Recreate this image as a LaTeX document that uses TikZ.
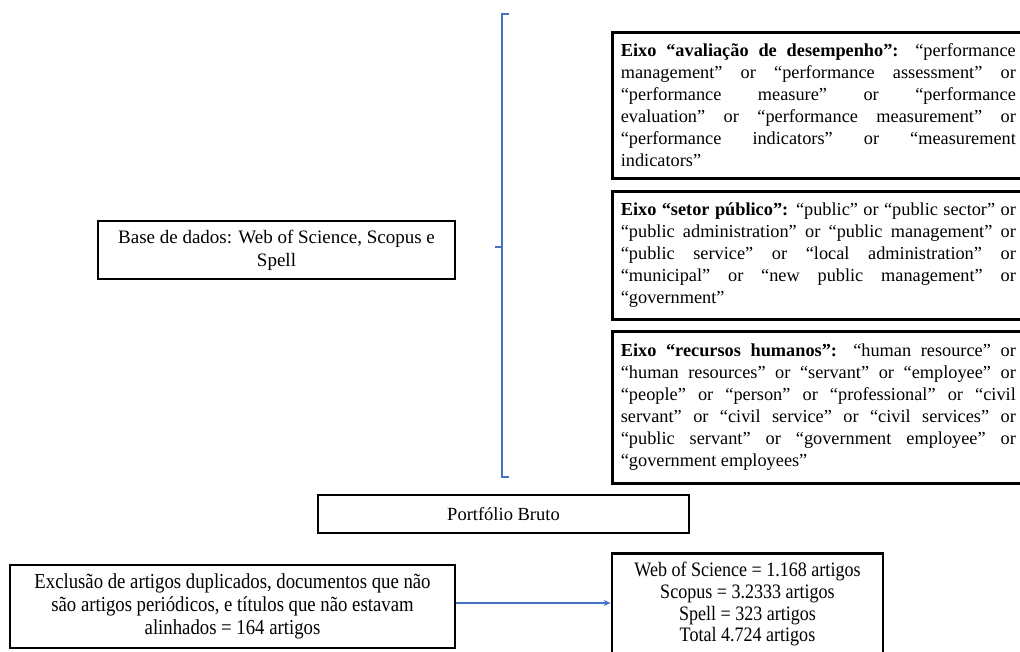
\documentclass[tikz,border=0pt]{standalone}
\usepackage{fontspec}
\setmainfont{Liberation Serif}
\newfontfamily\estreita[FakeStretch=0.88]{Liberation Serif}
\usepackage{xcolor}
\usetikzlibrary{arrows.meta, positioning}
\definecolor{azul}{HTML}{4472C4}

\begin{document}
\begin{tikzpicture}[x = 1pt, y = -1pt,
	caixa/.style = {draw, line width = 2.7pt, inner sep = 0pt, align = center},
	eixo/.style = {caixa, anchor = north west, text width = 395pt, inner xsep = 8.5pt, align = justify, font = {\fontsize{18.3}{22}\selectfont}},
	chave/.style = {draw = azul, line width = 1.8pt},
	seta/.style = {draw = azul, line width = 1.6pt, -{Stealth[length = 7pt, width = 6pt]}}]
	\def\xEixo{611};
	\def\xChave{502};
	\def\yTopo{14};
	\def\yBase{477};
	\def\yMeio{247};

	\useasboundingbox (0,0) rectangle (1020,652);

	\begin{scope}
		\node [eixo, minimum height = 146pt] (avaliacao) at (\xEixo,31) {\textbf{Eixo “avaliação de desempenho”:} “performance\linebreak management” or “performance assessment” or\linebreak “performance measure” or “performance\linebreak evaluation” or “performance measurement” or\linebreak “performance indicators” or “measurement\linebreak indicators”};
		\node [eixo, minimum height = 128pt] (setor) at (\xEixo,190) {\textbf{Eixo “setor público”:} “public” or “public sector” or\linebreak “public administration” or “public management” or\linebreak “public service” or “local administration” or\linebreak “municipal” or “new public management” or\linebreak “government”};
		\node [eixo, minimum height = 152pt] (humanos) at (\xEixo,330) {\textbf{Eixo “recursos humanos”:} “human resource” or\linebreak “human resources” or “servant” or “employee” or\linebreak “people” or “person” or “professional” or “civil\linebreak servant” or “civil service” or “civil services” or\linebreak “public servant” or “government employee” or\linebreak “government employees”};
	\end{scope}

	\begin{scope}
		\node [caixa, minimum width = 357pt, minimum height = 58pt, font = {\fontsize{19}{23}\selectfont}] (dados) at (276.5,250) {Base de dados: Web of Science, Scopus e\\Spell};
		\node [caixa, minimum width = 371pt, minimum height = 38pt, font = {\fontsize{18.5}{23}\selectfont}] (bruto) at (503.5,514) {Portfólio Bruto};
	\end{scope}

	\begin{scope}
		\node [caixa, minimum width = 445pt, minimum height = 83pt, font = {\estreita\fontsize{21.3}{23.3}\selectfont}] (exclusao) at (232.5,606.5) {Exclusão de artigos duplicados, documentos que não\\são artigos periódicos, e títulos que não estavam\\alinhados = 164 artigos};
		\node [caixa, anchor = north, minimum width = 271pt, minimum height = 102pt, font = {\estreita\fontsize{20.5}{21.7}\selectfont}] (artigos) at (747.5,552) {Web of Science = 1.168 artigos\\Scopus = 3.2333 artigos\\Spell = 323 artigos\\Total 4.724 artigos};
		\draw [seta] (exclusao.east |- 0,603) -- (artigos.west |- 0,603);
	\end{scope}

	\begin{scope}[chave]
		\coordinate (chaveTopo) at (\xChave,\yTopo);
		\coordinate (chaveBase) at (\xChave,\yBase);
		\coordinate (chaveMeio) at (\xChave,\yMeio);
		\draw ([xshift = 7pt] chaveTopo) -- (chaveTopo) -- (chaveBase) -- ([xshift = 7pt] chaveBase);
		\draw ([xshift = -7pt] chaveMeio) -- (chaveMeio);
	\end{scope}
\end{tikzpicture}
\end{document}
